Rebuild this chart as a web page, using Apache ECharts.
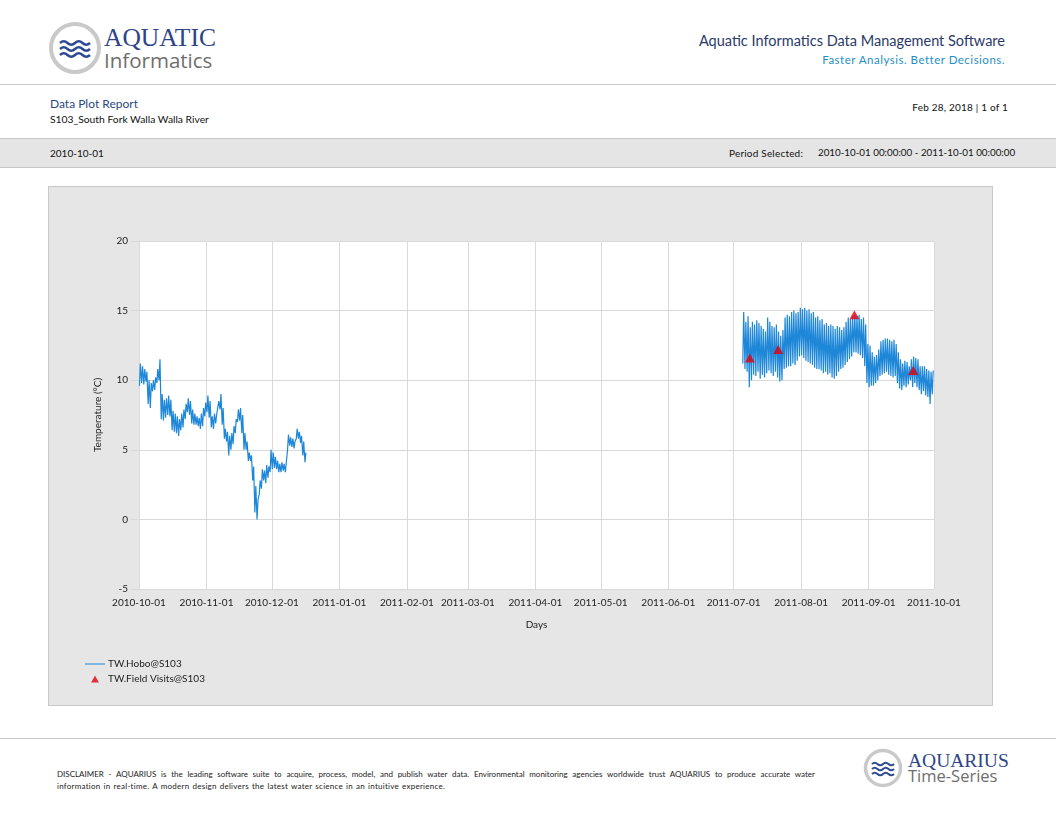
<!DOCTYPE html>
<html>
<head>
<meta charset="utf-8">
<script src="https://cdn.jsdelivr.net/npm/echarts@6/dist/echarts.min.js"></script>
<style>
  body { margin: 0; width: 1056px; height: 816px; background: #fff; position: relative; overflow: hidden; font-family: Lato, 'Open Sans', sans-serif; }
  .abs { position: absolute; white-space: nowrap; line-height: 1; }
  .rule { position: absolute; left: 0; width: 1056px; height: 1px; background: #c8c8c8; }
  #band { position: absolute; left: 0; top: 138px; width: 1056px; height: 30px; background: #e5e5e5; border-top: 1px solid #c6c6c6; border-bottom: 1px solid #c6c6c6; box-sizing: border-box; }
  #frame { position: absolute; left: 48px; top: 186px; width: 945px; height: 520px; border: 1px solid #c8c8c8; box-sizing: border-box; background: #e6e6e6; }
  #chart { width: 943px; height: 518px; }
</style>
</head>
<body>
<svg class="abs" style="left:46px;top:20px" width="58" height="56" viewBox="-29 -28 58 56">
  <circle r="24" fill="#fff" stroke="#c9c9c9" stroke-width="4"/>
  <g fill="none" stroke="#2d4a94" stroke-width="2.6">
    <path d="M-15,-5 q3.75,-3.5 7.5,0 t7.5,0 t7.5,0 t7.5,0"/>
    <path d="M-15,1 q3.75,-3.5 7.5,0 t7.5,0 t7.5,0 t7.5,0"/>
    <path d="M-15,7 q3.75,-3.5 7.5,0 t7.5,0 t7.5,0 t7.5,0"/>
  </g>
</svg>
<div class="abs" style="left:104px;top:25px;font-family:'Liberation Serif',serif;font-size:25.5px;color:#2e4487">AQUATIC</div>
<div class="abs" style="left:104px;top:50px;font-family:'Open Sans',sans-serif;font-size:20.5px;color:#6e6e6e">Informatics</div>

<div class="abs" style="right:51px;top:34px;font-size:14.5px;color:#2b3a67">Aquatic Informatics Data Management Software</div>
<div class="abs" style="right:51px;top:54px;font-size:11.5px;color:#1f8fc6;letter-spacing:0.5px">Faster Analysis. Better Decisions.</div>

<div class="rule" style="top:84px"></div>

<div class="abs" style="left:50px;top:98px;font-size:12px;color:#2b4a7c">Data Plot Report</div>
<div class="abs" style="left:50px;top:114px;font-size:10.3px;color:#111">S103_South Fork Walla Walla River</div>
<div class="abs" style="right:48px;top:102px;font-size:10px;color:#111;letter-spacing:0.2px">Feb 28, 2018 | 1 of 1</div>

<div id="band"></div>
<div class="abs" style="left:50px;top:148px;font-size:10px;color:#111">2010-10-01</div>
<div class="abs" style="left:729px;top:148px;font-size:10px;color:#111;letter-spacing:0.2px">Period Selected:</div>
<div class="abs" style="left:818px;top:148px;font-size:9.8px;color:#111">2010-10-01 00:00:00 - 2011-10-01 00:00:00</div>

<div id="frame"><div id="chart"></div></div>

<div class="rule" style="top:738px"></div>
<div class="abs" style="left:57px;top:770px;width:758px;font-size:8px;color:#222;text-align:justify;text-align-last:justify;white-space:normal">DISCLAIMER - AQUARIUS is the leading software suite to acquire, process, model, and publish water data. Environmental monitoring agencies worldwide trust AQUARIUS to produce accurate water</div>
<div class="abs" style="left:57px;top:782px;font-size:8px;color:#222;letter-spacing:0.25px;word-spacing:0.8px">information in real-time. A modern design delivers the latest water science in an intuitive experience.</div>

<svg class="abs" style="left:862px;top:747px" width="42" height="42" viewBox="-21 -21 42 42">
  <circle r="17.5" fill="#fff" stroke="#c9c9c9" stroke-width="3.5"/>
  <g fill="none" stroke="#2d4a94" stroke-width="2">
    <path d="M-11,-4 q2.75,-2.6 5.5,0 t5.5,0 t5.5,0 t5.5,0"/>
    <path d="M-11,1 q2.75,-2.6 5.5,0 t5.5,0 t5.5,0 t5.5,0"/>
    <path d="M-11,6 q2.75,-2.6 5.5,0 t5.5,0 t5.5,0 t5.5,0"/>
  </g>
</svg>
<div class="abs" style="left:908px;top:751px;font-family:'Liberation Serif',serif;font-size:19.5px;color:#2e4487">AQUARIUS</div>
<div class="abs" style="left:908px;top:768px;font-family:'Open Sans',sans-serif;font-size:16.5px;color:#6e6e6e">Time-Series</div>

<script>
// TW.Hobo@S103 - daily high / low
const fallStart = '2010-10-01'
const fallHighs = [11.2, 11.0, 10.8, 10.6, 10.0, 9.8, 10.0, 10.2, 10.8, 11.5,
  9.0, 8.6, 8.7, 8.9, 8.6, 7.8, 7.6, 7.4, 7.2, 7.6,
  7.9, 8.3, 8.7, 8.5, 7.9, 7.6, 7.4, 7.3, 7.6, 8.0,
  8.4, 8.9, 8.5, 7.4, 7.6, 7.5, 8.5, 9.0, 8.0, 6.5,
  6.3, 6.0, 6.2, 6.7, 7.2, 7.9, 8.0, 7.5, 6.2, 5.6,
  4.8, 4.6, 3.8, 2.4, 1.4, 2.8, 3.6, 3.5, 3.9, 3.8,
  5.0, 4.8, 4.5, 4.2, 4.0, 4.1, 4.0, 4.1, 6.1, 5.9,
  5.8, 5.6, 6.5, 6.3, 6.0, 5.6, 4.8]
const fallLows = [9.6, 9.8, 9.7, 9.9, 8.3, 8.0, 9.2, 9.3, 9.8, 10.0,
  7.2, 7.1, 7.3, 7.5, 7.4, 6.4, 6.3, 6.2, 6.0, 6.4,
  6.6, 7.2, 7.7, 7.5, 6.9, 6.8, 6.8, 6.7, 6.5, 6.7,
  7.4, 7.7, 7.3, 6.6, 6.5, 6.9, 7.6, 7.9, 6.8, 5.8,
  5.6, 4.6, 5.0, 5.4, 6.2, 7.0, 7.1, 6.2, 5.0, 5.0,
  4.2, 4.2, 2.8, 0.5, 0.0, 1.8, 2.2, 2.8, 2.6, 3.0,
  3.4, 3.6, 3.7, 3.6, 3.4, 3.4, 3.5, 3.4, 5.0, 5.3,
  5.2, 5.1, 5.8, 5.8, 5.5, 4.6, 4.1]

const summerStart = '2011-07-05'
const summerHighs = [14.9, 14.2, 14.6, 13.8, 14.2, 14.0, 14.3, 14.1, 13.9, 13.7,
  13.5, 14.5, 14.2, 13.9, 13.8, 14.0, 13.5, 13.2, 13.6, 14.5,
  14.7, 14.6, 14.9, 15.0, 14.8, 14.9, 15.2, 15.1, 15.2, 15.0,
  15.1, 14.8, 14.9, 14.5, 14.6, 14.3, 14.4, 14.0, 14.1, 13.9,
  14.0, 13.9, 13.7, 13.9, 13.8, 13.6, 13.8, 14.2, 14.5, 14.4,
  14.6, 14.7, 14.6, 14.7, 14.4, 14.5, 14.0, 12.6, 12.5, 12.0,
  11.7, 11.8, 12.2, 12.8, 12.9, 13.0, 13.0, 12.9, 12.8, 12.9,
  12.6, 12.0, 11.5, 11.2, 11.4, 11.3, 11.0, 11.5, 11.7, 11.6,
  11.5, 11.0, 11.0, 11.0, 10.8, 10.7, 10.6, 10.7]
const summerLows = [11.2, 10.8, 10.6, 9.5, 10.0, 10.4, 10.3, 10.6, 10.1, 10.4,
  10.2, 10.5, 10.7, 10.5, 10.3, 10.6, 10.2, 9.9, 10.0, 10.8,
  10.9, 11.0, 11.0, 11.2, 11.1, 11.4, 11.7, 11.8, 11.6, 11.4,
  11.3, 11.2, 11.1, 10.9, 10.8, 10.8, 10.7, 10.5, 10.6, 10.4,
  10.5, 10.2, 10.1, 10.3, 10.6, 10.8, 10.9, 11.1, 11.3, 11.5,
  11.7, 12.0, 12.0, 11.9, 11.8, 11.6, 11.0, 9.8, 9.5, 9.6,
  9.6, 9.8, 10.0, 10.3, 10.4, 10.5, 10.6, 10.4, 10.3, 10.2,
  10.3, 9.8, 9.4, 9.3, 9.6, 9.5, 9.7, 10.0, 9.5, 9.8,
  9.5, 9.3, 9.0, 9.2, 8.9, 8.8, 8.3, 9.0]

// TW.Field Visits@S103
const visitTimes = ['2011-07-08 11:00', '2011-07-21 11:00', '2011-08-25 11:00', '2011-09-21 11:00']
const visitValues = [11.6, 12.2, 14.7, 10.7]

const axisStart = '2010-10-01', axisEnd = '2011-10-01'

function toTime(str, addDays = 0, hour) {
    const [date, clock] = str.split(' ')
    const [y, m, d] = date.split('-').map(Number)
    const h = hour != null ? hour : (clock ? Number(clock.split(':')[0]) : 0)
    return new Date(y, m - 1, d + addDays, h).getTime()
}
const pad = n => (n < 10 ? '0' : '') + n

function dailyPoints(start, highs, lows) {
    const pts = []
    highs.forEach((hi, i) => {
        pts.push([toTime(start, i, 5), lows[i]])
        pts.push([toTime(start, i, 15), hi])
    })
    return pts
}

const hoboData = [
    ...dailyPoints(fallStart, fallHighs, fallLows),
    [toTime('2011-03-01'), null],
    ...dailyPoints(summerStart, summerHighs, summerLows)
]
const visitData = visitTimes.map((t, i) => [toTime(t), visitValues[i]])

const chart = echarts.init(document.getElementById('chart'))
const labelFont = { fontFamily: 'Lato, sans-serif', fontSize: 10, color: '#222' }
chart.setOption({
    animation: false,
    backgroundColor: '#e6e6e6',
    grid: { left: 90, top: 54, right: 58, bottom: 116, show: true, backgroundColor: '#fff', borderWidth: 0 },
    legend: {
        orient: 'vertical', left: 36, top: 472, padding: 0, itemWidth: 20, itemHeight: 7, itemGap: 5,
        textStyle: Object.assign({ padding: [0, 0, 0, -2] }, labelFont),
        data: [
            { name: 'TW.Hobo@S103', icon: 'path://M0,0L20,0L20,1L0,1Z', itemStyle: { color: '#1e87d8' } },
            { name: 'TW.Field Visits@S103', icon: 'path://M5,0L10,9L0,9Z', itemStyle: { color: '#e0000f' } }
        ]
    },
    xAxis: {
        type: 'time',
        min: toTime(axisStart), max: toTime(axisEnd),
        splitNumber: 12,
        name: 'Days', nameLocation: 'middle', nameGap: 31,
        nameTextStyle: labelFont,
        axisLine: { show: true, lineStyle: { color: '#d9d9d9' } },
        axisTick: { show: true, length: 6, lineStyle: { color: '#d9d9d9' } },
        splitLine: { show: true, lineStyle: { color: '#d9d9d9' } },
        axisLabel: Object.assign({
            margin: 9, showMinLabel: true, showMaxLabel: true, hideOverlap: false,
            formatter: v => { const d = new Date(v); return d.getFullYear() + '-' + pad(d.getMonth() + 1) + '-' + pad(d.getDate()) }
        }, labelFont)
    },
    yAxis: {
        type: 'value', min: -5, max: 20, interval: 5,
        name: 'Temperature (°C)', nameLocation: 'middle', nameGap: 36, nameRotate: 90,
        nameTextStyle: labelFont,
        axisLine: { show: true, lineStyle: { color: '#d9d9d9' } },
        axisTick: { show: true, length: 8, lineStyle: { color: '#d9d9d9' } },
        splitLine: { show: true, lineStyle: { color: '#d9d9d9' } },
        axisLabel: Object.assign({ margin: 11 }, labelFont)
    },
    series: [
        {
            name: 'TW.Hobo@S103', type: 'line', data: hoboData,
            symbol: 'none', connectNulls: false,
            itemStyle: { color: '#1e87d8' },
            lineStyle: { color: '#1e87d8', width: 1.2 }
        },
        {
            name: 'TW.Field Visits@S103', type: 'scatter', data: visitData,
            symbol: 'triangle', symbolSize: [10, 9], z: 5,
            itemStyle: { color: '#e0000f' }
        }
    ]
})
</script>
</body>
</html>
